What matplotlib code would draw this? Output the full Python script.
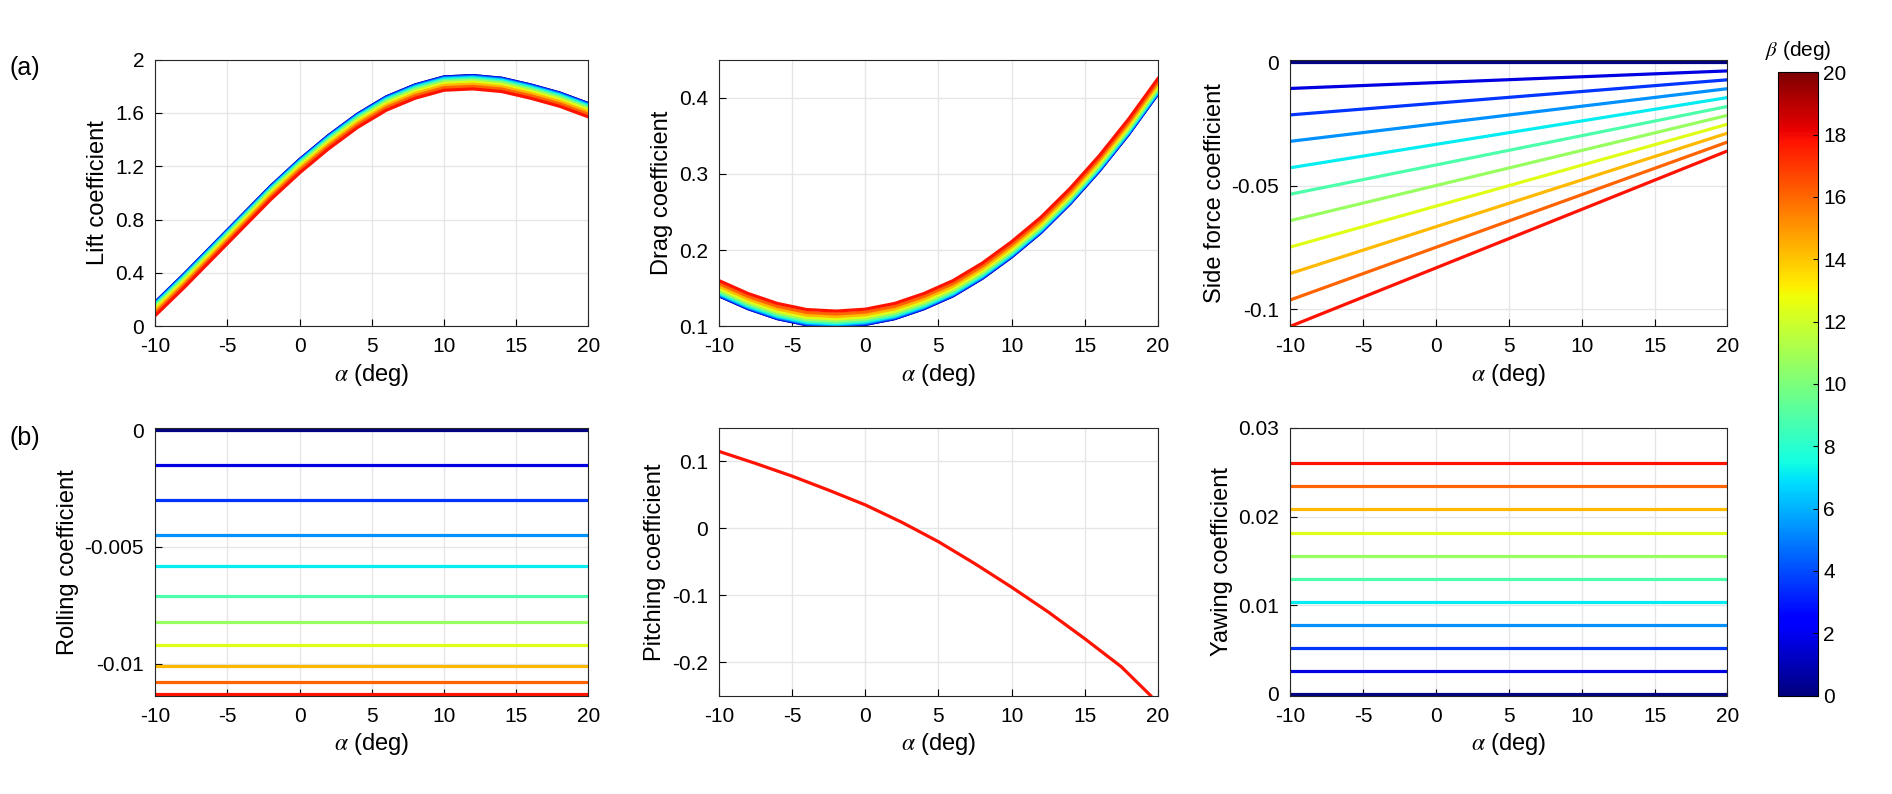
import numpy as np
import matplotlib.pyplot as plt
from matplotlib import cm, colors

plt.rcParams['font.family'] = ['Liberation Sans', 'DejaVu Sans']
plt.rcParams['mathtext.fontset'] = 'stix'
plt.rcParams['axes.unicode_minus'] = False

alpha = np.arange(-10, 21, 2)
beta = np.arange(0, 21, 2)

# lift at beta=0 and offsets per beta
cl0 = np.array([0.18, 0.39, 0.61, 0.83, 1.05, 1.25, 1.43, 1.59, 1.72, 1.81,
                1.87, 1.88, 1.86, 1.81, 1.75, 1.67])
cl_off = [0, -0.001, -0.004, -0.009, -0.016, -0.025, -0.036, -0.049, -0.064, -0.081, -0.100]

# drag at beta=0 and offsets per beta
cd0 = np.array([0.140, 0.123, 0.110, 0.102, 0.100, 0.1025, 0.110, 0.123, 0.140,
                0.163, 0.191, 0.223, 0.261, 0.304, 0.352, 0.405])
cd_off = [0, 0.0002, 0.0008, 0.0018, 0.0032, 0.005, 0.0072, 0.0098, 0.0128, 0.0162, 0.020]

# side force: endpoints at alpha=-10 and alpha=20
cy_a = [0, -0.0107, -0.0214, -0.0321, -0.0428, -0.0535, -0.0642, -0.0749, -0.0856, -0.0963, -0.107]
cy_b = [0, -0.0036, -0.0072, -0.0108, -0.0144, -0.018, -0.0216, -0.0252, -0.0288, -0.0324, -0.036]

# rolling and yawing (constant in alpha)
cl_roll = [0, -0.0015, -0.003, -0.0045, -0.0058, -0.0071, -0.0082, -0.0092, -0.0101, -0.0108, -0.0113]
cn_yaw = [0, 0.0026, 0.0052, 0.0078, 0.0104, 0.013, 0.0156, 0.0182, 0.0208, 0.0234, 0.026]

# pitching
cm_a = np.array([-10, -7.5, -5, -2.5, 0, 2.5, 5, 7.5, 10, 12.5, 15, 17.5, 19.5])
cm_v = np.array([0.115, 0.097, 0.078, 0.057, 0.035, 0.009, -0.020, -0.053, -0.088,
                 -0.125, -0.165, -0.207, -0.250])

cmap = cm.jet
def col(b):
    return cmap(b / 20 * 0.89)

fig = plt.figure(figsize=(18.92, 7.94), dpi=100)
xs = [(0.082, 0.311), (0.380, 0.612), (0.682, 0.913)]
rows = [(0.589, 0.925), (0.124, 0.461)]
axs = []
for r in rows:
    for x0, x1 in xs:
        axs.append(fig.add_axes([x0, r[0], x1 - x0, r[1] - r[0]]))

lw = 2.3
for i, b in enumerate(beta):
    axs[0].plot(alpha, cl0 + cl_off[i], color=col(b), lw=lw)
    axs[1].plot(alpha, cd0 + cd_off[i], color=col(b), lw=lw)
    axs[2].plot([-10, 20], [cy_a[i], cy_b[i]], color=col(b), lw=lw)
    axs[3].plot([-10, 20], [cl_roll[i]] * 2, color=col(b), lw=lw)
    axs[5].plot([-10, 20], [cn_yaw[i]] * 2, color=col(b), lw=lw)
axs[4].plot(cm_a, cm_v, color=col(20), lw=lw)

ylabels = ['Lift coefficient', 'Drag coefficient', 'Side force coefficient',
           'Rolling coefficient', 'Pitching coefficient', 'Yawing coefficient']
ylims = [(0, 2), (0.1, 0.45), (-0.107, 0.001), (-0.01137, 0.0001), (-0.25, 0.15), (-0.0002, 0.03)]
yticks = [np.arange(0, 2.01, 0.4), [0.1, 0.2, 0.3, 0.4], [-0.1, -0.05, 0],
          [-0.01, -0.005, 0], [-0.2, -0.1, 0, 0.1], [0, 0.01, 0.02, 0.03]]
yfmt = [['0', '0.4', '0.8', '1.2', '1.6', '2'], ['0.1', '0.2', '0.3', '0.4'],
        ['-0.1', '-0.05', '0'], ['-0.01', '-0.005', '0'], ['-0.2', '-0.1', '0', '0.1'],
        ['0', '0.01', '0.02', '0.03']]
for ax, yl, lim, yt, yf in zip(axs, ylabels, ylims, yticks, yfmt):
    ax.set_xlim(-10, 20)
    ax.set_xticks(np.arange(-10, 21, 5))
    ax.set_ylim(*lim)
    ax.set_yticks(yt)
    ax.set_yticklabels(yf)
    ax.grid(True, color='#e6e6e6', lw=1)
    ax.set_axisbelow(True)
    ax.tick_params(direction='in', labelsize=15, length=5, pad=8, top=False, right=False)
    ax.set_xlabel(r'$\alpha$ (deg)', fontsize=17)
    ax.set_ylabel(yl, fontsize=17)
    for s in ax.spines.values():
        s.set_color('#262626')

fig.text(0.005, 0.905, '(a)', fontsize=18)
fig.text(0.005, 0.44, '(b)', fontsize=18)

cax = fig.add_axes([0.940, 0.124, 0.021, 0.785])
norm = colors.Normalize(0, 20)
cb = fig.colorbar(cm.ScalarMappable(norm=norm, cmap=cmap), cax=cax, ticks=np.arange(0, 21, 2))
cb.ax.tick_params(labelsize=15, direction='in')
cax.set_title(r'$\beta$ (deg)', fontsize=15, pad=12)

fig.savefig('out.png', dpi=100)
